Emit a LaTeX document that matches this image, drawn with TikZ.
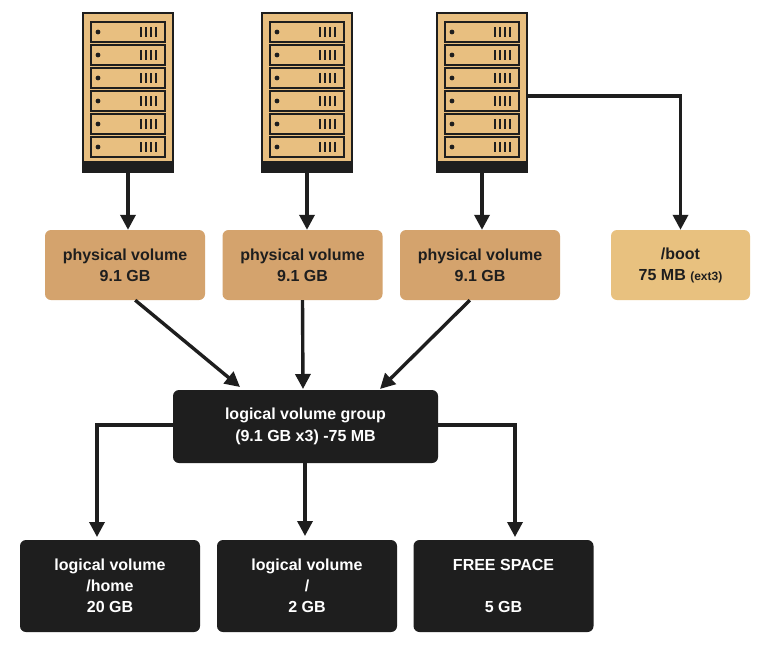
\documentclass[tikz,border=0pt]{standalone}
\usepackage{fontspec}
\setmainfont{Liberation Sans}
\usetikzlibrary{arrows.meta}
\definecolor{tan}{HTML}{E8BF80}
\definecolor{pv}{HTML}{D4A36D}
\definecolor{boot}{HTML}{E8C17F}
\definecolor{dk}{HTML}{1E1E1E}
\tikzset{
  pvbox/.style={fill=pv,rounded corners=6pt,minimum width=160pt,minimum height=70pt,align=center,font=\bfseries\fontsize{16}{21}\selectfont,text=dk,inner sep=0pt},
  bootbox/.style={pvbox,fill=boot,minimum width=139pt},
  lvbox/.style={fill=dk,rounded corners=6pt,minimum width=180pt,minimum height=92pt,align=center,font=\bfseries\fontsize{16}{21}\selectfont,text=white,inner sep=0pt},
  conn/.style={draw=dk,line width=3.4pt,-{Triangle[length=15pt,width=15pt]}},
}
\newcommand{\myrack}[3]{%
 \begin{scope}[shift={(#1,13)}]
  \fill[tan,draw=dk,line width=1.8pt] (0,0) rectangle (90,159);
  \fill[dk] (0,148) rectangle (90,159);
  \foreach \i in {0,...,5}{
   \draw[dk,line width=1.5pt] (8,{9+\i*23}) rectangle (82,{29+\i*23});
   \fill[dk] (15,{19+\i*23}) circle (2.4pt);
   \foreach \k in {0,...,3} \draw[dk,line width=1.4pt] ({58+\k*5},{14+\i*23}) -- ({58+\k*5},{24+\i*23});
  }
  \coordinate (#2) at (45,159);
  \coordinate (#3) at (90,83);
 \end{scope}}
\begin{document}
\begin{tikzpicture}[x=1pt,y=-1pt]
\useasboundingbox (0,0) rectangle (781,651);
\fill[white] (0,0) rectangle (781,651);
\myrack{83}{r1}{r1e}
\myrack{262}{r2}{r2e}
\myrack{437}{r3}{r3e}
\node[pvbox] (p1) at (125,265) {physical volume\\9.1 GB};
\node[pvbox] (p2) at (302.5,265) {physical volume\\9.1 GB};
\node[pvbox] (p3) at (480,265) {physical volume\\9.1 GB};
\node[bootbox] (bt) at (680.5,265) {/boot\\75 MB {\fontsize{12}{14}\selectfont(ext3)}};
\node[lvbox,minimum width=265pt,minimum height=73pt,font=\bfseries\fontsize{16}{22}\selectfont] (lg) at (305.5,426.5) {logical volume group\\(9.1 GB x3) -75 MB};
\node[lvbox] (l1) at (110,586) {logical volume\\/home\\20 GB};
\node[lvbox] (l2) at (307,586) {logical volume\\/\\2 GB};
\node[lvbox] (l3) at (503.5,586) {FREE SPACE\\\phantom{/}\\5 GB};
\coordinate (a1) at (240,387);
\coordinate (a2) at (303,389);
\coordinate (a3) at (380,389);
\coordinate (b2) at (305,536);
\draw[conn] (r1) -- (r1|-p1.north);
\draw[conn] (r2) -- (r2|-p2.north);
\draw[conn] (r3) -- (r3|-p3.north);
\draw[conn] (r3e) -| (bt.north);
\draw[conn] (p1.south east) ++(-70,0) -- (a1);
\draw[conn] (p2.south) -- (a2);
\draw[conn] (p3.south west) ++(70,0) -- (a3);
\draw[conn] (lg.west|-0,425) -| (97,537);
\draw[conn] (lg.south-|b2) -- (b2);
\draw[conn] (lg.east|-0,425) -| (515,537);
\end{tikzpicture}
\end{document}
